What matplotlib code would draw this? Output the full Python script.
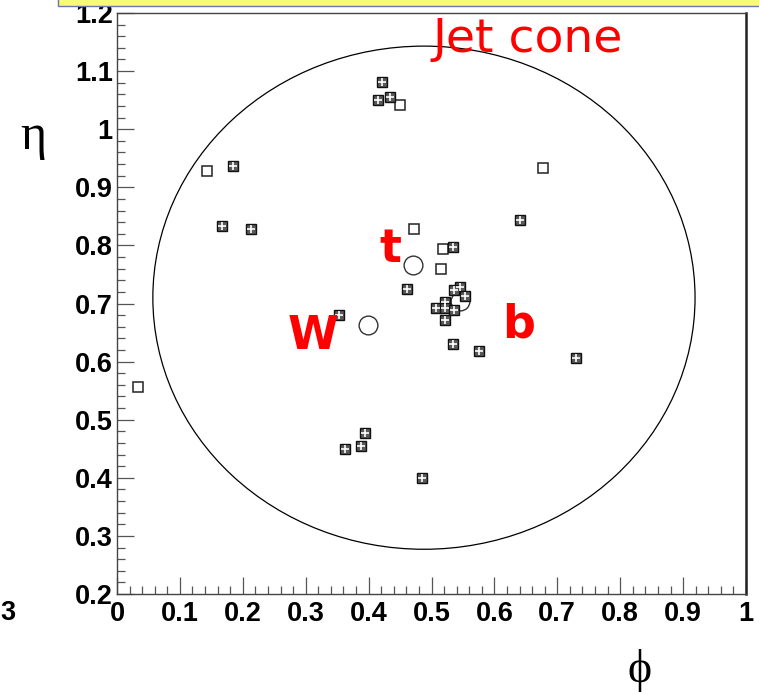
import matplotlib
matplotlib.use("Agg")
import matplotlib.pyplot as plt
from matplotlib.patches import Ellipse, Rectangle
from matplotlib.ticker import MultipleLocator, FixedLocator

# Jet constituents drawn as open squares
open_phi = [0.033, 0.143, 0.450, 0.677, 0.472, 0.518, 0.515]
open_eta = [0.556, 0.928, 1.042, 0.934, 0.829, 0.793, 0.760]

# Jet constituents drawn as crossed squares
cross_phi = [0.421, 0.415, 0.434, 0.185, 0.167, 0.213, 0.641, 0.534,
             0.461, 0.545, 0.535, 0.554, 0.522, 0.507, 0.522, 0.536,
             0.521, 0.353, 0.534, 0.576, 0.730, 0.394, 0.362, 0.388, 0.485]
cross_eta = [1.081, 1.050, 1.056, 0.937, 0.833, 0.828, 0.844, 0.797,
             0.725, 0.728, 0.723, 0.713, 0.703, 0.692, 0.692, 0.688,
             0.672, 0.680, 0.630, 0.618, 0.607, 0.477, 0.450, 0.455, 0.400]

# Partons: top, W and b
parton_names = ["t", "W", "b"]
parton_phi = [0.470, 0.399, 0.545]
parton_eta = [0.767, 0.663, 0.704]

# Jet cone
cone_phi = 0.488
cone_eta = 0.710
cone_r_phi = 0.431
cone_r_eta = 0.433

x_ticks = [0, 0.1, 0.2, 0.3, 0.4, 0.5, 0.6, 0.7, 0.8, 0.9, 1]
x_tick_labels = ["0", "0.1", "0.2", "0.3", "0.4", "0.5", "0.6", "0.7", "0.8", "0.9", "1"]
y_ticks = [0.2, 0.3, 0.4, 0.5, 0.6, 0.7, 0.8, 0.9, 1.0, 1.1, 1.2]
y_tick_labels = ["0.2", "0.3", "0.4", "0.5", "0.6", "0.7", "0.8", "0.9", "1", "1.1", "1.2"]

label_family = "Liberation Sans"
label_size = 19.5

W_PX, H_PX = 759, 695
fig = plt.figure(figsize=(W_PX / 100, H_PX / 100), dpi=100)
fig.patch.set_facecolor("white")

# title box strip along the top edge
fig.patches.append(Rectangle((58 / W_PX, 689 / H_PX), 1.0, 10 / H_PX,
                             transform=fig.transFigure, facecolor="#fafa78",
                             edgecolor="#6a78a8", linewidth=1.0, zorder=0))

ax = fig.add_axes([117 / W_PX, (H_PX - 594) / H_PX, (746 - 117) / W_PX, (594 - 13) / H_PX])
ax.set_xlim(0, 1)
ax.set_ylim(0.2, 1.2)

for side in ["left", "bottom", "top", "right"]:
    ax.spines[side].set_color("#444444")
    ax.spines[side].set_linewidth(1.0)
ax.spines["right"].set_linewidth(1.8)
ax.spines["right"].set_color("#222222")

ax.xaxis.set_major_locator(FixedLocator(x_ticks))
ax.yaxis.set_major_locator(FixedLocator(y_ticks))
ax.xaxis.set_minor_locator(MultipleLocator(0.02))
ax.yaxis.set_minor_locator(MultipleLocator(0.02))
ax.set_xticklabels(x_tick_labels, family=label_family, fontweight="bold", fontsize=label_size)
ax.set_yticklabels(y_tick_labels, family=label_family, fontweight="bold", fontsize=label_size)
ax.tick_params(which="major", direction="in", length=12.5, width=0.9,
               color="#555555", top=False, right=False)
ax.tick_params(which="minor", direction="in", length=6, width=0.9,
               color="#555555", top=False, right=False)
ax.tick_params(axis="x", which="major", pad=5)
ax.tick_params(axis="y", which="major", pad=3)

# cone
ax.add_patch(Ellipse((cone_phi, cone_eta), 2 * cone_r_phi, 2 * cone_r_eta,
                     fill=False, edgecolor="black", linewidth=0.9, zorder=2))

# parton circles
ax.plot(parton_phi, parton_eta, linestyle="none", marker="o", markersize=13.5,
        markerfacecolor="none", markeredgecolor="#333333", markeredgewidth=1.0, zorder=3)

# open squares
ax.plot(open_phi, open_eta, linestyle="none", marker="s", markersize=7.3,
        markerfacecolor="white", markeredgecolor="#222222", markeredgewidth=1.1, zorder=4)

# crossed squares
ax.plot(cross_phi, cross_eta, linestyle="none", marker="s", markersize=7.3,
        markerfacecolor="#5a5a5a", markeredgecolor="#111111", markeredgewidth=1.0, zorder=5)
ax.plot(cross_phi, cross_eta, linestyle="none", marker="+", markersize=5.8,
        markeredgecolor="white", markeredgewidth=1.2, zorder=6)

# labels
ax.text(0.502, 1.133, "Jet cone", color="red", fontsize=34,
        family="DejaVu Sans", ha="left", va="baseline", zorder=7)
label_pos = {"t": (0.434, 0.772), "W": (0.3116, 0.621), "b": (0.639, 0.642)}
for name in parton_names:
    lx, ly = label_pos[name]
    ax.text(lx, ly, name, color="red", fontsize=33, fontweight="bold",
            family="DejaVu Sans", ha="center", va="baseline", zorder=7)

fig.text(33 / W_PX, 1 - 137 / H_PX, "η", fontsize=36, family="Liberation Serif",
         ha="center", va="center")
fig.text(640 / W_PX, 1 - 670 / H_PX, "ϕ", fontsize=33, family="Liberation Serif",
         ha="center", va="center")
fig.text(8 / W_PX, 1 - 613 / H_PX, "3", fontsize=label_size, family=label_family,
         fontweight="bold", ha="center", va="center")

fig.savefig("out.png", dpi=100)
